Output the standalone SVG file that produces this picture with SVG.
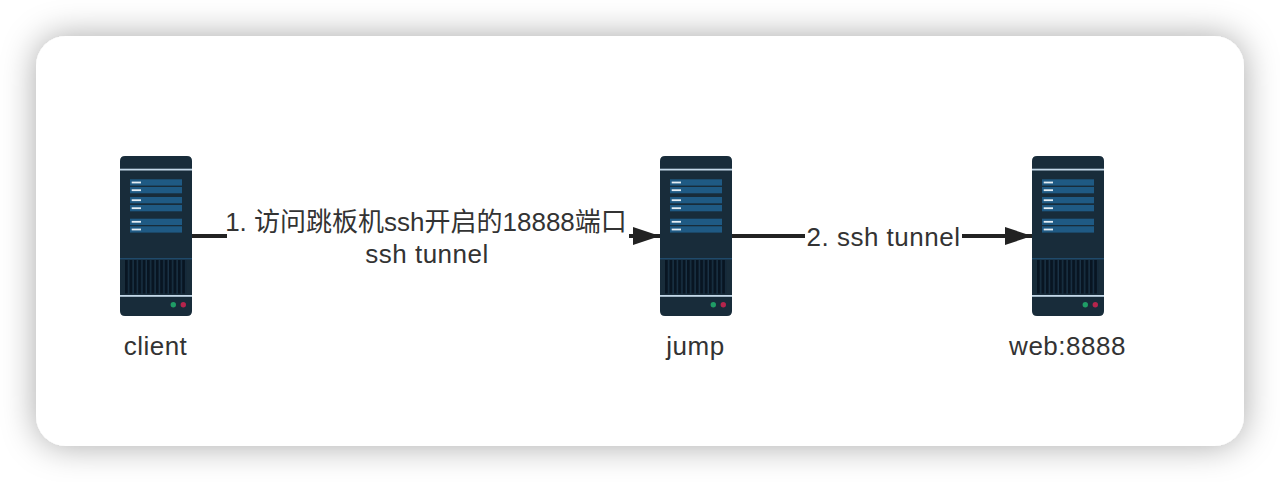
<svg xmlns="http://www.w3.org/2000/svg" width="1280" height="482" viewBox="0 0 1280 482">
<style>
text{font-family:"Liberation Sans","Noto Sans CJK SC",sans-serif;font-size:26px;letter-spacing:.5px;fill:#333;text-anchor:middle}
text.tight{letter-spacing:0}
.line{fill:none;stroke:#222;stroke-width:4}
.bar{fill:#1f5a84}
.dash{fill:#e4eef5}
.vent{fill:#081522}
.bg{fill:#fff}
</style>
<defs>
<filter id="sh" x="-10%" y="-20%" width="120%" height="140%"><feDropShadow dx="0" dy="0" stdDeviation="17" flood-color="#000" flood-opacity="0.34"/></filter>
<marker id="arrow" markerUnits="userSpaceOnUse" markerWidth="27" markerHeight="18" refX="27" refY="9" orient="auto"><path d="M0 0L27 9L0 18L0 0Z" fill="#222"/></marker>
<pattern id="grille" x="125" y="260" width="4.400" height="34" patternUnits="userSpaceOnUse"><rect width="4.400" height="34" fill="#1a3346"/><rect x="0" width="3" height="34" class="vent"/></pattern>
<symbol id="server" width="72" height="160" viewBox="120 156 72 160" overflow="visible">
<path d="M125 156H187Q192 156 192 161V311Q192 316 187 316H125Q120 316 120 311V161Q120 156 125 156Z" fill="#182c3a"/>
<rect x="120" y="168.7" width="72" height="1.8" fill="#c3d8e8"/>
<rect class="bar" x="130" y="179.300" width="52" height="6.3"/><rect class="bar" x="130" y="187" width="52" height="6.3"/>
<rect class="bar" x="130" y="197" width="52" height="6.3"/><rect class="bar" x="130" y="205" width="52" height="6.3"/>
<rect class="bar" x="130" y="218.700" width="52" height="6.3"/><rect class="bar" x="130" y="226.300" width="52" height="6.3"/>
<rect class="dash" x="131.700" y="181.600" width="9.3" height="1.8"/><rect class="dash" x="131.700" y="189.300" width="9.3" height="1.8"/>
<rect class="dash" x="131.700" y="199.300" width="9.3" height="1.8"/><rect class="dash" x="131.700" y="207.300" width="9.3" height="1.8"/>
<rect class="dash" x="131.700" y="220.900" width="9.3" height="1.8"/><rect class="dash" x="131.700" y="228.600" width="9.3" height="1.8"/>
<rect x="120" y="258" width="72" height="1.4" fill="#1f4a6b"/>
<rect x="125" y="260" width="61.500" height="33.500" fill="url(#grille)"/>
<rect x="120" y="295" width="72" height="1.8" fill="#c3d8e8"/>
<circle cx="173.300" cy="304.700" r="2.700" fill="#1f9d66"/><circle cx="183.300" cy="304.700" r="2.700" fill="#b5244c"/>
</symbol>
</defs>
<rect id="card" x="36" y="36" width="1208" height="410" rx="30" fill="#fff" filter="url(#sh)"/>
<g id="connectors">
<path class="line" d="M192 236H660" marker-end="url(#arrow)"/>
<path class="line" d="M732 236H1032" marker-end="url(#arrow)"/>
</g>
<g id="labels">
<rect class="bg" x="227" y="208" width="402" height="34"/>
<text class="tight" x="426" y="231">1. 访问跳板机ssh开启的18888端口</text>
<text x="427" y="263">ssh tunnel</text>
<rect class="bg" x="805" y="222" width="157" height="28"/>
<text x="883.500" y="246">2. ssh tunnel</text>
</g>
<g id="client"><use href="#server" x="120" y="156"/><text x="155.500" y="355">client</text></g>
<g id="jump"><use href="#server" x="660" y="156"/><text x="695.500" y="355">jump</text></g>
<g id="web"><use href="#server" x="1032" y="156"/><text x="1067.500" y="355">web:8888</text></g>
</svg>
